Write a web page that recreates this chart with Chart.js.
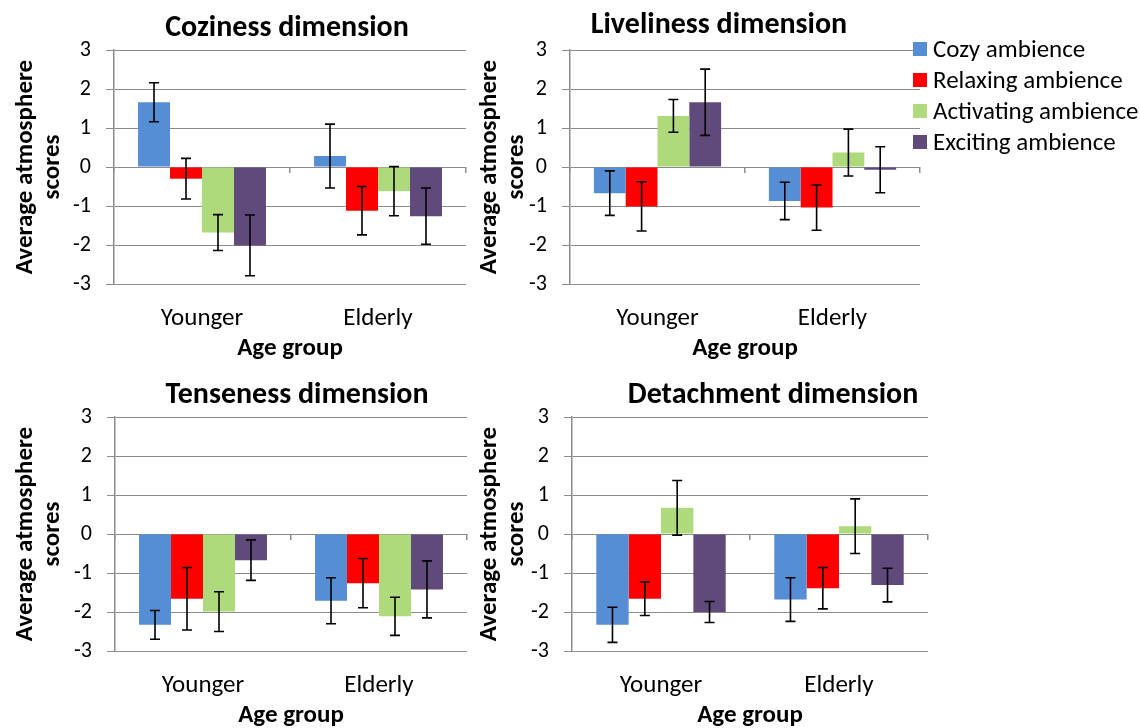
<!DOCTYPE html>
<html>
<head>
<meta charset="utf-8">
<title>Atmosphere scores by age group</title>
<script src="https://cdn.jsdelivr.net/npm/chart.js@4.4.0/dist/chart.umd.min.js"></script>
<style>
  html, body { margin: 0; padding: 0; background: #fff; overflow: hidden; }
  body { width: 1140px; height: 728px; position: relative; font-family: Carlito, Lato, sans-serif; }
  canvas { position: absolute; }
  #legend { position: absolute; left: 913px; top: 33px; font-size: 25px; color: #000; }
  #legend .item { display: flex; align-items: center; height: 31px; white-space: nowrap; }
  #legend .sw { width: 14px; height: 14px; margin-right: 6px; }
</style>
</head>
<body>
<canvas id="coziness" width="574" height="364" style="left:0;top:0"></canvas>
<canvas id="liveliness" width="498" height="364" style="left:470px;top:0"></canvas>
<canvas id="tenseness" width="594" height="364" style="left:0;top:367px"></canvas>
<canvas id="detachment" width="606" height="364" style="left:470px;top:367px"></canvas>
<div id="legend"></div>
<script>
const FONT = 'Carlito, Lato, sans-serif';
const GRID = '#8c8c8c';

const ageGroups = ['Younger', 'Elderly'];
const ambiences = ['Cozy ambience', 'Relaxing ambience', 'Activating ambience', 'Exciting ambience'];
const ambienceColors = ['#558ED5', '#FF0000', '#AFDA7B', '#604A7B'];
const yTicks = [-3, -2, -1, 0, 1, 2, 3];

// one row per ambience: [Younger, Elderly]
const cozinessMeans = [[1.66, 0.28], [-0.30, -1.12], [-1.68, -0.62], [-2.01, -1.26]];
const cozinessErrors = [[0.50, 0.82], [0.52, 0.62], [0.46, 0.63], [0.78, 0.72]];

const livelinessMeans = [[-0.67, -0.87], [-1.01, -1.04], [1.31, 0.37], [1.66, -0.07]];
const livelinessErrors = [[0.57, 0.48], [0.63, 0.58], [0.42, 0.60], [0.85, 0.59]];

const tensenessMeans = [[-2.33, -1.71], [-1.66, -1.26], [-1.99, -2.11], [-0.67, -1.42]];
const tensenessErrors = [[0.37, 0.59], [0.80, 0.63], [0.51, 0.49], [0.52, 0.73]];

const detachmentMeans = [[-2.33, -1.68], [-1.66, -1.39], [0.67, 0.20], [-2.00, -1.31]];
const detachmentErrors = [[0.45, 0.56], [0.43, 0.53], [0.70, 0.70], [0.27, 0.43]];

// draws +/- error whiskers on top of each bar
const errorBars = {
  id: 'errorBars',
  afterDatasetsDraw(chart) {
    const { ctx } = chart;
    const y = chart.scales.y;
    ctx.save();
    ctx.strokeStyle = '#000';
    ctx.lineWidth = 1.6;
    chart.data.datasets.forEach((ds, i) => {
      chart.getDatasetMeta(i).data.forEach((bar, j) => {
        const v = ds.data[j], e = ds.errors[j];
        const top = y.getPixelForValue(v + e);
        const bot = y.getPixelForValue(v - e);
        const cap = 5;
        ctx.beginPath();
        ctx.moveTo(bar.x, top); ctx.lineTo(bar.x, bot);
        ctx.moveTo(bar.x - cap, top); ctx.lineTo(bar.x + cap, top);
        ctx.moveTo(bar.x - cap, bot); ctx.lineTo(bar.x + cap, bot);
        ctx.stroke();
      });
    });
    ctx.restore();
  }
};

function makePanel(id, title, means, errors, g) {
  new Chart(document.getElementById(id), {
    type: 'bar',
    data: {
      labels: ageGroups,
      datasets: ambiences.map((name, i) => ({
        label: name,
        data: means[i],
        errors: errors[i],
        backgroundColor: ambienceColors[i],
        borderWidth: 0,
        barPercentage: 1,
        categoryPercentage: 0.727
      }))
    },
    options: {
      responsive: false,
      animation: false,
      events: [],
      layout: { padding: 0 },
      plugins: {
        legend: { display: false },
        tooltip: { enabled: false },
        title: {
          display: true,
          text: title,
          color: '#000',
          font: { family: FONT, size: 30, weight: 'bold', lineHeight: '36px' },
          padding: { top: g.titleTop, bottom: 14 - g.titleTop }
        }
      },
      scales: {
        x: {
          type: 'category',
          grid: { display: false },
          border: { display: false },
          ticks: { color: '#000', padding: 12, font: { family: FONT, size: 25 } },
          title: {
            display: true,
            text: 'Age group',
            color: '#000',
            font: { family: FONT, size: 25, weight: 'bold' },
            padding: { top: 0, bottom: 0 }
          },
          afterFit: s => { s.height = 80; }
        },
        x0: {
          type: 'category',
          position: { y: 0 },
          offset: true,
          grid: { offset: true, drawOnChartArea: false, tickLength: 6, color: GRID, lineWidth: 1.5 },
          border: { display: false },
          ticks: { display: false }
        },
        y: {
          min: -3,
          max: 3,
          afterBuildTicks: s => { s.ticks = yTicks.map(v => ({ value: v })); },
          grid: { color: GRID, lineWidth: 1, tickLength: 8 },
          border: { color: GRID, width: 1.5 },
          ticks: { color: '#000', padding: 15, font: { family: FONT, size: 22 } },
          title: {
            display: true,
            text: ['Average atmosphere', 'scores'],
            color: '#000',
            font: { family: FONT, size: 25, weight: 'bold', lineHeight: '27px' },
            padding: { top: g.yTitleTop, bottom: 0 }
          },
          afterFit: s => { s.width = g.left; }
        },
        yR: {
          position: 'right',
          min: -3,
          max: 3,
          grid: { display: false },
          border: { display: false },
          ticks: { display: false },
          afterFit: s => { s.width = g.rightExtra; }
        }
      }
    },
    plugins: [errorBars]
  });
}

makePanel('coziness', 'Coziness dimension', cozinessMeans, cozinessErrors,
  { left: 114, rightExtra: 108, titleTop: 10, yTitleTop: 12 });
makePanel('liveliness', 'Liveliness dimension', livelinessMeans, livelinessErrors,
  { left: 100, rightExtra: 48, titleTop: 7, yTitleTop: 6 });
makePanel('tenseness', 'Tenseness dimension', tensenessMeans, tensenessErrors,
  { left: 115, rightExtra: 127, titleTop: 10, yTitleTop: 12 });
makePanel('detachment', 'Detachment dimension', detachmentMeans, detachmentErrors,
  { left: 102, rightExtra: 148, titleTop: 10, yTitleTop: 6 });

const legend = document.getElementById('legend');
ambiences.forEach((name, i) => {
  const row = document.createElement('div');
  row.className = 'item';
  row.innerHTML = '<span class="sw" style="background:' + ambienceColors[i] + '"></span><span>' + name + '</span>';
  legend.appendChild(row);
});
</script>
</body>
</html>
